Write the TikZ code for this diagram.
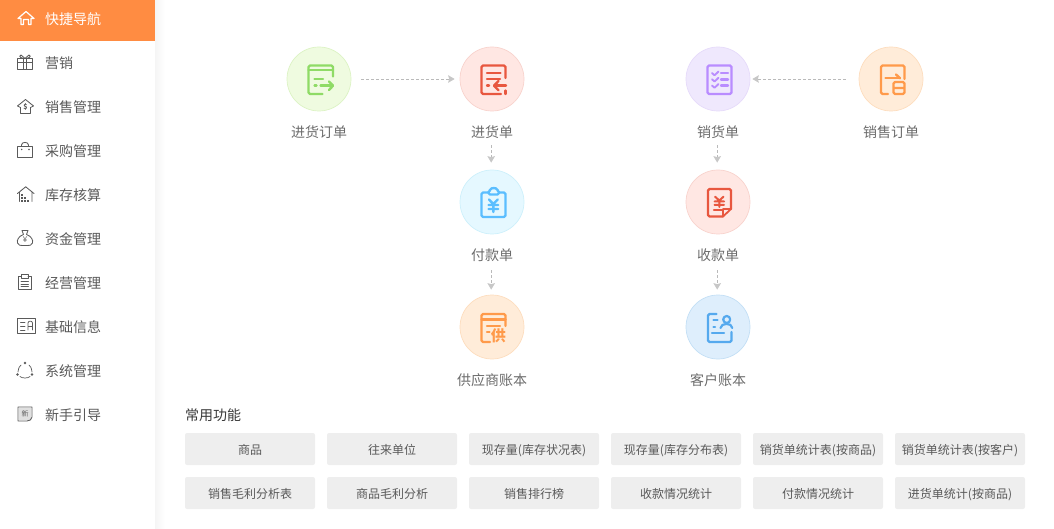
\documentclass[tikz,border=0pt]{standalone}
\usepackage{fontspec}
\setmainfont{Noto Sans CJK SC}
\usetikzlibrary{arrows.meta}
\definecolor{cgreen}{HTML}{8FDB66}
\definecolor{cred}{HTML}{E8573F}
\definecolor{cpurple}{HTML}{B98CFF}
\definecolor{corange}{HTML}{FF9A4A}
\definecolor{ccyan}{HTML}{5BBEFF}
\definecolor{cblue}{HTML}{55A9EE}
\definecolor{menuink}{HTML}{5A5A5A}
\definecolor{topbar}{HTML}{FF8C42}
\definecolor{fgreen}{HTML}{EFFBE0}\definecolor{dgreen}{HTML}{DCF3C4}
\definecolor{fred}{HTML}{FFE7E3}\definecolor{dred}{HTML}{F8D3CD}
\definecolor{fpurple}{HTML}{EFE8FD}\definecolor{dpurple}{HTML}{E6DBFA}
\definecolor{forange}{HTML}{FFECD9}\definecolor{dorange}{HTML}{FDDDBE}
\definecolor{fcyan}{HTML}{E5F8FF}\definecolor{dcyan}{HTML}{CDF0FB}
\definecolor{fblue}{HTML}{DEEEFC}\definecolor{dblue}{HTML}{C3DFF5}
\tikzset{
  circ/.style={circle,minimum size=64pt,inner sep=0pt,line width=.7pt},
  lab/.style={inner sep=0pt,minimum height=20pt,text=black!58,font=\fontsize{14}{14}\selectfont},
  btn/.style={rectangle,rounded corners=2pt,fill=black!6.5,minimum width=130pt,minimum height=32pt,inner sep=0pt,text height=12pt,text depth=1pt,text=black!65,font=\fontsize{12}{12}\selectfont},
  menu/.style={anchor=west,inner sep=0pt,text=black!65,font=\fontsize{14}{14}\selectfont},
  arr/.style={draw=black!27,line width=.9pt,dash pattern=on 3pt off 2pt,-{Stealth[length=6.5pt,width=7.5pt,inset=1pt,color=black!22]}},
  ico/.style={line width=2.4pt,line cap=round,line join=round,rounded corners=1.5pt},
  sic/.style={draw=menuink,line width=.85pt,line cap=round,line join=round},
}
\begin{document}
\begin{tikzpicture}[x=1pt,y=-1pt]
\useasboundingbox (0,0) rectangle (1054,529);
% sidebar
\shade[left color=black!4,right color=white] (155,0) rectangle (165,529);
\fill[topbar] (0,0) rectangle (155,41);

% menu text
\node[menu,text=white] (m1) at (45,19) {快捷导航};
\node[menu] (m2) at (45,63) {营销};
\node[menu] (m3) at (45,107) {销售管理};
\node[menu] (m4) at (45,151) {采购管理};
\node[menu] (m5) at (45,195) {库存核算};
\node[menu] (m6) at (45,239) {资金管理};
\node[menu] (m7) at (45,283) {经营管理};
\node[menu] (m8) at (45,327) {基础信息};
\node[menu] (m9) at (45,371) {系统管理};
\node[menu] (m10) at (45,415) {新手引导};

% menu icons
\draw[sic,draw=white,line width=1.2pt] (18,18.5) -- (26,11.5) -- (34,18.5) -- (31,18.5) -- (31,24.5) -- (28.5,24.5) -- (28.5,19.5) -- (23.5,19.5) -- (23.5,24.5) -- (21,24.5) -- (21,18.5) -- cycle;
\draw[sic] (17.5,58.5) -- (32.5,58.5) (17.5,62) -- (32.5,62) (17.5,58.5) -- (17.5,69.5) -- (32.5,69.5) -- (32.5,58.5) (23.5,58.5) -- (23.5,69.5) (26.5,58.5) -- (26.5,69.5);
\draw[sic] (23,58.5) .. controls (19,57.5) and (19,54.5) .. (21,55) -- (25,58.5) -- (29,55) .. controls (31,54.5) and (31,57.5) .. (27,58.5);
\draw[sic] (17.5,106) -- (25.5,99.5) -- (33.5,106) -- (30.5,107.5) -- (30.5,113.5) -- (20.5,113.5) -- (20.5,107.5) -- cycle;
\node[inner sep=0pt,text=menuink,font=\fontsize{7}{7}\selectfont\bfseries] (i3) at (25.5,106.7) {\$};
\draw[sic] (17.5,146.5) rectangle (32.5,157.5) (21.5,146.5) -- (21.5,145) .. controls (21.5,141.5) and (28.5,141.5) .. (28.5,145) -- (28.5,146.5);
\fill[menuink] (21.7,149.5) circle (.8) (29,149.5) circle (.8);
\draw[sic] (17.5,193.5) -- (25.7,186.8) -- (34,193.5) (19.5,192.5) -- (19.5,201.5) (32,192.5) -- (32,201.5);
\foreach \px/\py in {22/195,22/198,22/201,25/198,25/201,28/201}{\fill[menuink] (\px-.7,\py-.7) rectangle (\px+.7,\py+.7);}
\draw[sic] (22,230.5) -- (28,230.5) -- (26.5,234.5) .. controls (31,236) and (33.5,240) .. (32.5,243) .. controls (32,245.5) and (30,245.5) .. (25,245.5) .. controls (20,245.5) and (18,245.5) .. (17.5,243) .. controls (16.5,240) and (19,236) .. (23.5,234.5) -- cycle;
\node[inner sep=0pt,text=menuink,font=\fontsize{8}{8}\selectfont] (i6) at (25,240) {¥};
\draw[sic] (21.5,276.5) -- (18,276.5) -- (18,289.5) -- (31.5,289.5) -- (31.5,276.5) -- (28,276.5) (21.5,274.5) rectangle (28,278) (21,281.5) -- (28.5,281.5) (21,284) -- (28.5,284) (21,286.5) -- (28.5,286.5);
\draw[sic] (17.5,318.5) rectangle (35,333.5) (20.5,322) -- (25,322) (20.5,326) -- (25,326) (20.5,330) -- (25,330);
\draw[sic,line width=.7pt] (28,330) -- (28,323) .. controls (28,320.5) and (32.5,320.5) .. (32.5,323) -- (32.5,330) (28,326.5) -- (32.5,326.5);
\draw[sic,line width=.7pt] (21,365) .. controls (19.5,366) and (18.5,368) .. (18,372) (29,365) .. controls (30.5,366) and (31.5,368) .. (32,372) (20,376.5) .. controls (22,378.5) and (28,378.5) .. (30,376.5);
\fill[menuink] (25,363) circle (1.3) (17.5,374.5) circle (1.3) (32,374.5) circle (1.3);
\fill[black!12] (19,408) rectangle (31,420);
\draw[sic] (18,407) -- (32,407) -- (32,417) .. controls (31.5,419.5) and (30,421) .. (27,421) -- (18,421) -- cycle;
\node[inner sep=0pt,text=menuink,font=\fontsize{7}{7}\selectfont] (i10) at (25,414) {新};

% circles
\node[circ,fill=fgreen,draw=dgreen] (c1) at (319,79) {};
\node[circ,fill=fred,draw=dred] (c2) at (492,79) {};
\node[circ,fill=fpurple,draw=dpurple] (c3) at (718,79) {};
\node[circ,fill=forange,draw=dorange] (c4) at (891,79) {};
\node[circ,fill=fcyan,draw=dcyan] (c5) at (492,202) {};
\node[circ,fill=fred,draw=dred] (c6) at (718,202) {};
\node[circ,fill=forange,draw=dorange] (c7) at (492,327) {};
\node[circ,fill=fblue,draw=dblue] (c8) at (718,327) {};

% labels
\node[lab] (l1) at (319,132) {进货订单};
\node[lab] (l2) at (492,132) {进货单};
\node[lab] (l3) at (718,132) {销货单};
\node[lab] (l4) at (891,132) {销售订单};
\node[lab] (l5) at (492,255) {付款单};
\node[lab] (l6) at (718,255) {收款单};
\node[lab] (l7) at (492,380) {供应商账本};
\node[lab] (l8) at (718,380) {客户账本};

% connectors
\draw[arr,shorten <=10pt,shorten >=5pt] (c1) -- (c2);
\draw[arr,shorten <=13pt,shorten >=2pt] (c4) -- (c3);
\draw[arr,shorten <=3pt,shorten >=7pt] ([xshift=-.8pt]l2.south) -- ([xshift=-.8pt]c5.north);
\draw[arr,shorten <=5pt,shorten >=5pt] ([xshift=-.8pt]l5.south) -- ([xshift=-.8pt]c7.north);
\draw[arr,shorten <=3pt,shorten >=7pt] ([xshift=-.8pt]l3.south) -- ([xshift=-.8pt]c6.north);
\draw[arr,shorten <=5pt,shorten >=5pt] ([xshift=-.8pt]l6.south) -- ([xshift=-.8pt]c8.north);

% icon 1
\begin{scope}[ico,draw=cgreen]
\draw (333,76.5) -- (333,65.5) -- (308.5,65.5) -- (308.5,94) -- (322.5,94);
\draw (308.5,70) -- (333,70);
\draw (314.5,79.3) -- (323,79.3) (314.5,85.7) -- (316.5,85.7) (320.5,85.7) -- (332.5,85.7);
\draw[rounded corners=0pt] (329,81.5) -- (333,85.7) -- (329,90);
\end{scope}
% icon 2
\begin{scope}[ico,draw=cred]
\draw (505.5,78) -- (505.5,65.5) -- (481.5,65.5) -- (481.5,94) -- (501,94);
\draw (487,73.3) -- (500.5,73.3) (487,79.3) -- (500,79.3) (487,85.7) -- (489,85.7) (494.5,85.7) -- (506,85.7);
\draw[rounded corners=0pt] (498.5,81) -- (494,85.7) -- (498.5,90.3);
\draw (505.5,90.5) -- (505.5,94);
\end{scope}
% icon 3
\begin{scope}[ico,draw=cpurple]
\draw (707.5,65.5) rectangle (731.5,94);
\draw (721,73.3) -- (728,73.3) (721,79.5) -- (728,79.5) (721,85.7) -- (728,85.7);
\draw[rounded corners=0pt,line width=1.9pt] (712,73) -- (714.5,75.3) -- (718.5,71.5) (712,79.3) -- (714.5,81.5) -- (718.5,77.8) (712,85.5) -- (714.5,87.8) -- (718.5,84);
\end{scope}
% icon 4
\begin{scope}[ico,draw=corange]
\draw (904.5,79) -- (904.5,65.5) -- (881,65.5) -- (881,94) -- (888,94);
\draw (893.5,82) rectangle (904.5,94) (893.5,88) -- (904.5,88);
\draw (885.5,78.3) -- (900,78.3);
\draw[rounded corners=0pt] (896,74.5) -- (900,78.3);
\end{scope}
% icon 5
\begin{scope}[ico,draw=ccyan]
\draw (488,192.5) -- (481.5,192.5) -- (481.5,217) -- (505.5,217) -- (505.5,192.5) -- (499,192.5);
\draw (488.5,194.5) -- (488.5,190.5) -- (491,190.5) .. controls (491,187.8) and (496.5,187.8) .. (496.5,190.5) -- (499,190.5) -- (499,194.5) -- cycle;
\draw[rounded corners=0pt] (489,199.5) -- (493.3,204) -- (497.7,199.5) (493.3,204) -- (493.3,212) (488.5,205) -- (498.2,205) (488.5,209) -- (498.2,209);
\end{scope}
% icon 6
\begin{scope}[ico,draw=corange]
\draw (505.5,326) -- (505.5,314) -- (481.5,314) -- (481.5,342) -- (490,342);
\draw (481.5,319.5) -- (505.5,319.5);
\draw (487,325.7) -- (500,325.7) (487,331.7) -- (489.5,331.7);
\end{scope}
\node[inner sep=0pt,text=corange,font=\fontsize{15}{15}\selectfont\bfseries] (i14) at (498.3,335.5) {供};
% icon 7
\begin{scope}[ico,draw=cred]
\draw (723,216.5) -- (708,216.5) -- (708,189) -- (731,189) -- (731,209);
\draw[rounded corners=0pt,line width=1.8pt] (731,209) -- (723,216.5) -- (723,209) -- cycle;
\draw[rounded corners=0pt,line width=2pt] (715,196.7) -- (719.3,200.5) -- (723.5,196.7) (719.3,200.5) -- (719.3,207) (714.5,201.5) -- (724,201.5) (714.5,204.8) -- (724,204.8);
\draw (714,210) -- (722,210);
\end{scope}
% icon 8
\begin{scope}[ico,draw=cblue]
\draw (716.5,314) -- (708,314) -- (708,342) -- (731.5,342) -- (731.5,332);
\draw (713.5,320) -- (717.5,320) (713.5,326.7) -- (715,326.7) (712,332.7) -- (724,332.7);
\draw[line width=2.2pt] (726.7,319.5) circle (3.5);
\draw[rounded corners=0pt,line width=2.2pt] (720.5,328) .. controls (721,322.5) and (732,322.5) .. (732.3,328);
\end{scope}

% common functions
\node[anchor=west,inner sep=0pt,text=black!78,font=\fontsize{14}{14}\selectfont] (h) at (185,415) {常用功能};
\node[btn] (b1) at (250,449) {商品};
\node[btn] (b2) at (392,449) {往来单位};
\node[btn] (b3) at (534,449) {现存量(库存状况表)};
\node[btn] (b4) at (676,449) {现存量(库存分布表)};
\node[btn] (b5) at (818,449) {销货单统计表(按商品)};
\node[btn] (b6) at (960,449) {销货单统计表(按客户)};
\node[btn] (b7) at (250,493) {销售毛利分析表};
\node[btn] (b8) at (392,493) {商品毛利分析};
\node[btn] (b9) at (534,493) {销售排行榜};
\node[btn] (b10) at (676,493) {收款情况统计};
\node[btn] (b11) at (818,493) {付款情况统计};
\node[btn] (b12) at (960,493) {进货单统计(按商品)};
\end{tikzpicture}
\end{document}
